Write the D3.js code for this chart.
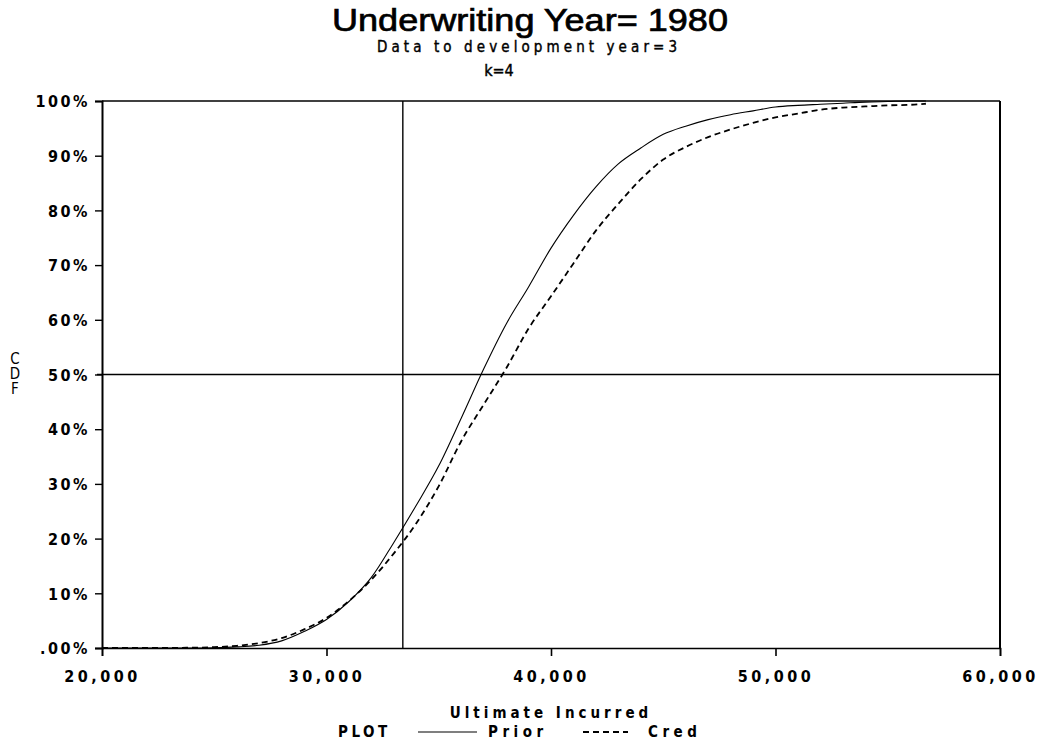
<!DOCTYPE html>
<html>
<head>
<meta charset="utf-8">
<script src="https://cdn.jsdelivr.net/npm/d3@7"></script>
<style>
  body { margin: 0; background: #fff; }
  svg { display: block; }
  .plotter { font-family: "DejaVu Sans Condensed", "DejaVu Sans", sans-serif; font-weight: bold; fill: #000; }
</style>
</head>
<body>
<svg id="chart" width="1041" height="756"></svg>
<script>
// Ultimate incurred amounts at which the two CDFs are tabulated
const incurred = [20000, 24000, 25000, 26000, 27000, 28000, 29000, 30000, 31000, 32000, 33000,
                  34000, 35000, 36000, 37000, 38000, 39000, 40000, 41000, 42000, 43000, 44000,
                  45000, 46000, 47000, 48000, 49000, 50000, 51000, 52000, 53000, 54000, 55000,
                  56000, 56700];
// Prior distribution CDF (%)
const priorCdf = [0, 0, 0.05, 0.2, 0.5, 1.3, 3.0, 5.2, 8.5, 12.9, 19.3,
                  26.1, 33.3, 42.0, 51.0, 59.2, 66.0, 73.1, 79.1, 84.3, 88.5, 91.4,
                  93.9, 95.4, 96.6, 97.5, 98.2, 98.9, 99.2, 99.4, 99.6, 99.8, 99.9,
                  100, 100];
// Credibility-weighted CDF (%)
const credCdf = [0, 0.05, 0.15, 0.4, 0.9, 1.8, 3.4, 5.5, 8.6, 12.5, 17.3,
                 22.8, 29.6, 37.8, 44.5, 51.1, 58.4, 64.3, 70.3, 76.3, 81.2, 85.7,
                 89.3, 91.6, 93.4, 94.8, 96.0, 97.0, 97.7, 98.4, 98.8, 99.0, 99.2,
                 99.3, 99.5];
const xTicks = [20000, 30000, 40000, 50000, 60000];
const yTicks = [0, 10, 20, 30, 40, 50, 60, 70, 80, 90, 100];
const yTickLabels = [".00%", "10%", "20%", "30%", "40%", "50%", "60%", "70%", "80%", "90%", "100%"];
// Reference lines: incurred to date and the median
const refIncurred = 33400;
const refPct = 50;

const svg = d3.select("#chart");
const plotLeft = 102, plotRight = 1000, plotTop = 101, plotBottom = 648;

const x = d3.scaleLinear().domain([20000, 60000]).range([plotLeft, plotRight]);
const y = d3.scaleLinear().domain([0, 100]).range([plotBottom, plotTop]);

// Title block
svg.append("text")
  .attr("x", 530).attr("y", 31)
  .attr("text-anchor", "middle")
  .attr("textLength", 396).attr("lengthAdjust", "spacingAndGlyphs")
  .style("font-family", "'Liberation Sans', Arial, sans-serif")
  .style("font-size", "31px")
  .style("stroke", "#000").style("stroke-width", "0.7px")
  .text("Underwriting Year= 1980");
svg.append("text").attr("class", "plotter")
  .attr("x", 527).attr("y", 52)
  .attr("text-anchor", "middle")
  .attr("textLength", 300).attr("lengthAdjust", "spacing")
  .style("font-size", "15px").style("font-weight", "normal")
  .style("stroke", "#000").style("stroke-width", "0.4px")
  .text("Data to development year=3");
svg.append("text").attr("class", "plotter")
  .attr("x", 499).attr("y", 76)
  .attr("text-anchor", "middle")
  .style("font-size", "16px").style("font-weight", "normal")
  .style("stroke", "#000").style("stroke-width", "0.4px")
  .text("k=4");

// Axes
const xAxis = d3.axisBottom(x).tickValues(xTicks).tickSize(8).tickFormat(d3.format(",.0f"));
const gx = svg.append("g").attr("transform", `translate(0,${plotBottom})`).call(xAxis);
gx.select(".domain").attr("stroke-width", 1.6);
gx.selectAll(".tick line").attr("stroke-width", 1.6);
gx.selectAll(".tick text").attr("class", "plotter")
  .attr("dy", null).attr("y", 34)
  .style("font-size", "16px").style("letter-spacing", "3.5px");

const yAxis = d3.axisLeft(y).tickValues(yTicks).tickSize(7).tickFormat((d, i) => yTickLabels[i]);
const gy = svg.append("g").attr("transform", `translate(${plotLeft},0)`).call(yAxis);
gy.select(".domain").attr("stroke-width", 2);
gy.selectAll(".tick line").attr("stroke-width", 1.4);
gy.selectAll(".tick text").attr("class", "plotter")
  .attr("x", -12).attr("dy", "0.36em")
  .style("font-size", "16px").style("letter-spacing", "2.5px");

// Frame top and right
svg.append("line").attr("x1", plotLeft).attr("x2", plotRight).attr("y1", y(100)).attr("y2", y(100))
  .attr("stroke", "#000").attr("stroke-width", 1.6);
svg.append("line").attr("x1", plotRight).attr("x2", plotRight).attr("y1", y(100)).attr("y2", plotBottom)
  .attr("stroke", "#000").attr("stroke-width", 2);

// Reference lines
svg.append("line").attr("x1", x(refIncurred)).attr("x2", x(refIncurred))
  .attr("y1", y(100)).attr("y2", y(0))
  .attr("stroke", "#000").attr("stroke-width", 1.4);
svg.append("line").attr("x1", x(20000) - 5).attr("x2", plotRight)
  .attr("y1", y(refPct)).attr("y2", y(refPct))
  .attr("stroke", "#000").attr("stroke-width", 1.4);

// CDF curves
const line = d3.line().x(d => x(d[0])).y(d => y(d[1])).curve(d3.curveMonotoneX);
svg.append("path")
  .datum(incurred.map((v, i) => [v, priorCdf[i]]))
  .attr("d", line).attr("fill", "none")
  .attr("stroke", "#000").attr("stroke-width", 1.1);
svg.append("path")
  .datum(incurred.map((v, i) => [v, credCdf[i]]))
  .attr("d", line).attr("fill", "none")
  .attr("stroke", "#000").attr("stroke-width", 1.8)
  .attr("stroke-dasharray", "6,4");

// Axis titles
svg.append("text").attr("class", "plotter")
  .attr("x", 551).attr("y", 718).attr("text-anchor", "middle")
  .style("font-size", "15px").style("letter-spacing", "4px")
  .text("Ultimate Incurred");
// Stacked vertical y-axis title
svg.append("text").attr("class", "plotter")
  .attr("x", 15).attr("y", 372)
  .attr("text-anchor", "middle")
  .style("writing-mode", "vertical-rl")
  .style("text-orientation", "upright")
  .style("font-size", "15px").style("font-weight", "normal")
  .style("letter-spacing", "-3px")
  .text("CDF");

// Legend
svg.append("text").attr("class", "plotter")
  .attr("x", 338).attr("y", 737)
  .style("font-size", "15px").style("letter-spacing", "3.5px")
  .text("PLOT");
svg.append("line").attr("x1", 418).attr("x2", 477).attr("y1", 732).attr("y2", 732)
  .attr("stroke", "#000").attr("stroke-width", 1.1);
svg.append("text").attr("class", "plotter")
  .attr("x", 488).attr("y", 737)
  .style("font-size", "15px").style("letter-spacing", "4.5px")
  .text("Prior");
svg.append("line").attr("x1", 583).attr("x2", 628).attr("y1", 732).attr("y2", 732)
  .attr("stroke", "#000").attr("stroke-width", 1.8).attr("stroke-dasharray", "6,4");
svg.append("text").attr("class", "plotter")
  .attr("x", 648).attr("y", 737)
  .style("font-size", "15px").style("letter-spacing", "4.5px")
  .text("Cred");
</script>
</body>
</html>
